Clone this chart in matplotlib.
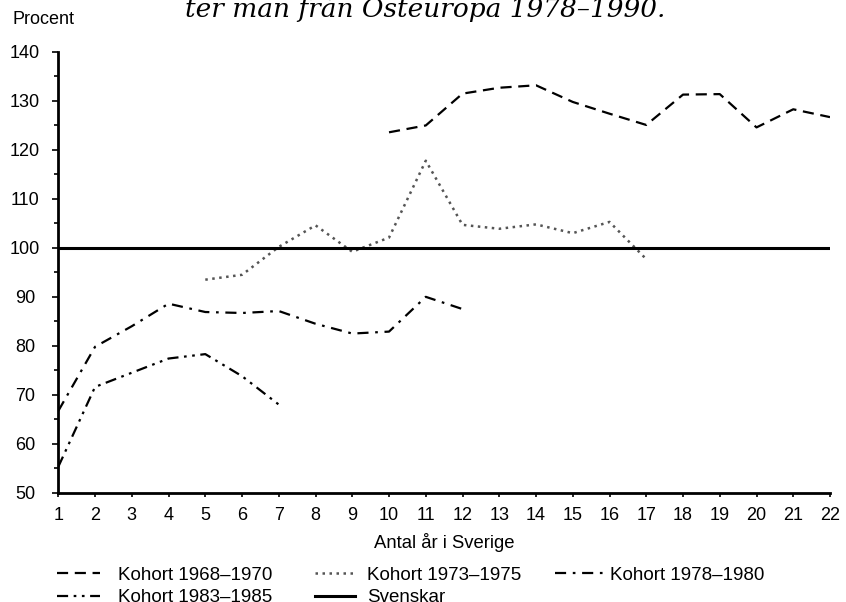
import numpy as np
import matplotlib
matplotlib.use("Agg")
import matplotlib.pyplot as plt
from matplotlib.lines import Line2D
from matplotlib.ticker import MultipleLocator

plt.rcParams['font.family'] = ['Liberation Sans', 'DejaVu Sans']

# Andel (procent) relativt svenskar, per antal år i Sverige
years_68 = list(range(10, 23))
kohort_68 = [123.6, 125.0, 131.5, 132.7, 133.2, 129.8, 127.4, 125.1, 131.3, 131.4, 124.6, 128.3, 126.7]

years_73 = list(range(5, 18))
kohort_73 = [93.5, 94.5, 100.2, 104.6, 99.2, 102.1, 117.8, 104.7, 103.9, 104.8, 103.0, 105.3, 97.7]

years_78 = list(range(1, 13))
kohort_78 = [66.7, 79.8, 84.0, 88.6, 86.9, 86.7, 87.1, 84.5, 82.5, 82.9, 90.0, 87.5]

years_83 = list(range(1, 8))
kohort_83 = [55.3, 71.6, 74.5, 77.4, 78.3, 73.8, 68.0]

years_sv = [1, 22]
svenskar = [100, 100]

labels = ['Kohort 1968\u20131970', 'Kohort 1973\u20131975', 'Kohort 1978\u20131980',
          'Kohort 1983\u20131985', 'Svenskar']

# line styles (color, width, dash pattern)
styles = [
    dict(color='black', lw=1.6, linestyle=(0, (5, 3))),
    dict(color='#555555', lw=1.8, linestyle=(0, (1, 1.8))),
    dict(color='black', lw=1.6, linestyle=(0, (5, 3, 1.2, 3))),
    dict(color='black', lw=1.6, linestyle=(0, (5, 2.5, 1.2, 2.5, 1.2, 2.5))),
    dict(color='black', lw=2.2, linestyle='-'),
]

W, H = 846, 602
fig = plt.figure(figsize=(W / 100, H / 100), dpi=100)
ax = fig.add_axes([58.3 / W, 1 - 492.7 / H, (830 - 58.3) / W, (492.7 - 52) / H])

series = [(years_68, kohort_68), (years_73, kohort_73), (years_78, kohort_78),
          (years_83, kohort_83), (years_sv, svenskar)]
for (xs, ys), st in zip(series, styles):
    ax.plot(xs, ys, **st)

ax.set_xlim(1, 22)
ax.set_ylim(50, 140)
ax.set_xticks(range(1, 23))
ax.yaxis.set_major_locator(MultipleLocator(10))
ax.yaxis.set_minor_locator(MultipleLocator(5))

for s in ['top', 'right']:
    ax.spines[s].set_visible(False)
for s in ['left', 'bottom']:
    ax.spines[s].set_linewidth(2.0)

ax.tick_params(axis='both', which='both', direction='out', length=3, width=1.2, labelsize=13)
ax.tick_params(axis='y', which='major', length=4, pad=20)
ax.tick_params(axis='x', pad=7)
for t in ax.get_yticklabels():
    t.set_horizontalalignment('center')

ax.set_xlabel('Antal år i Sverige', fontsize=13.3, labelpad=7)
fig.text(12 / W, 1 - 20 / H, 'Procent', fontsize=13, ha='left', va='center')

fig.text(0.502, 1 - 17 / H, 'ter män från Östeuropa 1978\u20131990.', fontsize=19,
         family='DejaVu Serif', style='italic', ha='center', va='baseline')

# legend drawn by hand: (handle start, handle end, text x, row y) in pixels
legend_pos = [
    (57, 100, 118, 573),
    (315, 355, 367, 573),
    (555, 603, 610, 573),
    (57, 100, 118, 596),
    (315, 355, 367, 596),
]
for (x0, x1, xt, y), st, lab in zip(legend_pos, styles, labels):
    fy = 1 - y / H
    fig.add_artist(Line2D([x0 / W, x1 / W], [fy, fy], transform=fig.transFigure, **st))
    fig.text(xt / W, fy, lab, fontsize=13.5, ha='left', va='center_baseline')

fig.savefig('out.png', dpi=100)
